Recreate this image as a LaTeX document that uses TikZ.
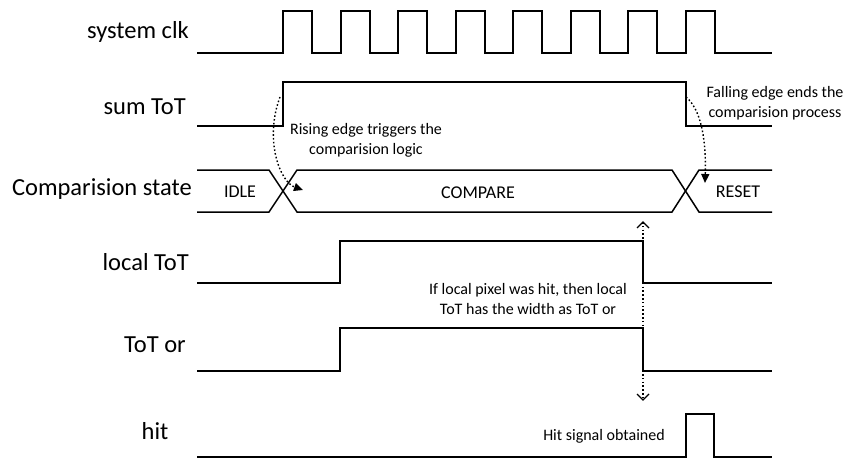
\documentclass[tikz,border=0pt]{standalone}
\usepackage{fontspec}
\setmainfont{Carlito}
\usepackage{tikz}
\usetikzlibrary{positioning,arrows.meta}

\tikzset{
  wave/.style={line width=1.5pt, line join=miter},
  siglbl/.style={font=\fontsize{24.5}{28}\selectfont, inner sep=0pt},
  statelbl/.style={font=\fontsize{18}{22}\selectfont, inner sep=0pt},
  note/.style={font=\fontsize{16}{20}\selectfont, align=center, inner sep=0pt},
  cue/.style={line width=1.4pt, dash pattern=on 1.6pt off 2.2pt},
  barbline/.style={line width=1.4pt, line join=miter}
}

\begin{document}
\begin{tikzpicture}[x=1pt,y=-1pt]
  \useasboundingbox (0,0) rectangle (847,460);

  % signal names
  \node[siglbl, anchor=east] (lblclk) at (189,32) {system clk};
  \node[siglbl, anchor=east] (lblsum) at (186,107) {sum ToT};
  \node[siglbl, anchor=east] (lblstate) at (192,189) {Comparision state};
  \node[siglbl, anchor=east] (lbllocal) at (189,262) {local ToT};
  \node[siglbl, anchor=east] (lblor) at (186,345) {ToT or};
  \node[siglbl] (lblhit) at (155,431) {hit};

  % system clk
  \draw[wave] (197,53)
    foreach \r in {283,341,398,456,513,571,628,686} { -- (\r,53) -- (\r,11) -- ++(29,0) -- ++(0,42) }
    -- (772,53);

  % sum ToT
  \draw[wave] (197,126) -- (283,126) -- (283,82) -- (686,82) -- (686,126) -- (772,126);

  % comparision state bus
  \draw[wave] (197,170) -- (269,170) -- (297,212) -- (672,212) -- (699,170) -- (772,170);
  \draw[wave] (197,212) -- (269,212) -- (297,170) -- (672,170) -- (699,212) -- (772,212);
  \node[statelbl] (idle) at (240,192) {IDLE};
  \node[statelbl] (compare) at (478,193) {COMPARE};
  \node[statelbl] (reset) at (738,192) {RESET};

  % local ToT
  \draw[wave] (197,283) -- (340,283) -- (340,241) -- (643,241) -- (643,283) -- (772,283);

  % ToT or
  \draw[wave] (197,371) -- (340,371) -- (340,328) -- (643,328) -- (643,371) -- (772,371);

  % hit
  \draw[wave] (197,457) -- (686,457) -- (686,414) -- (714,414) -- (714,457) -- (772,457);

  % annotations
  \node[note] (risenote) at (366,140) {Rising edge triggers the\\comparision logic};
  \node[note] (fallnote) at (775,103) {Falling edge ends the\\comparision process};
  \node[note] (hitnote) at (528,299) {If local pixel was hit, then local\\ToT has the width as ToT or};
  \node[note] (obtnote) at (604,436) {Hit signal obtained};

  \coordinate (risetop) at (280,97);
  \coordinate (risetip) at (303,190);
  \coordinate (falltop) at (686,97);
  \coordinate (falltip) at (705,183);
  \coordinate (cmpup) at (643,222);
  \coordinate (cmpdn) at (643,400);

  \draw[cue, -{Triangle[length=9pt,width=8pt]}] (risetop) .. controls (264,140) and (280,182) .. (risetip);
  \draw[cue, -{Triangle[length=9pt,width=8pt]}] (falltop) .. controls (704,112) and (706,150) .. (falltip);
  \draw[cue] (cmpup) -- (cmpdn);
  \draw[barbline] (cmpup) ++(-6,6) -- (cmpup) -- ++(6,6);
  \draw[barbline] (cmpdn) ++(-6,-6) -- (cmpdn) -- ++(6,-6);
\end{tikzpicture}
\end{document}
